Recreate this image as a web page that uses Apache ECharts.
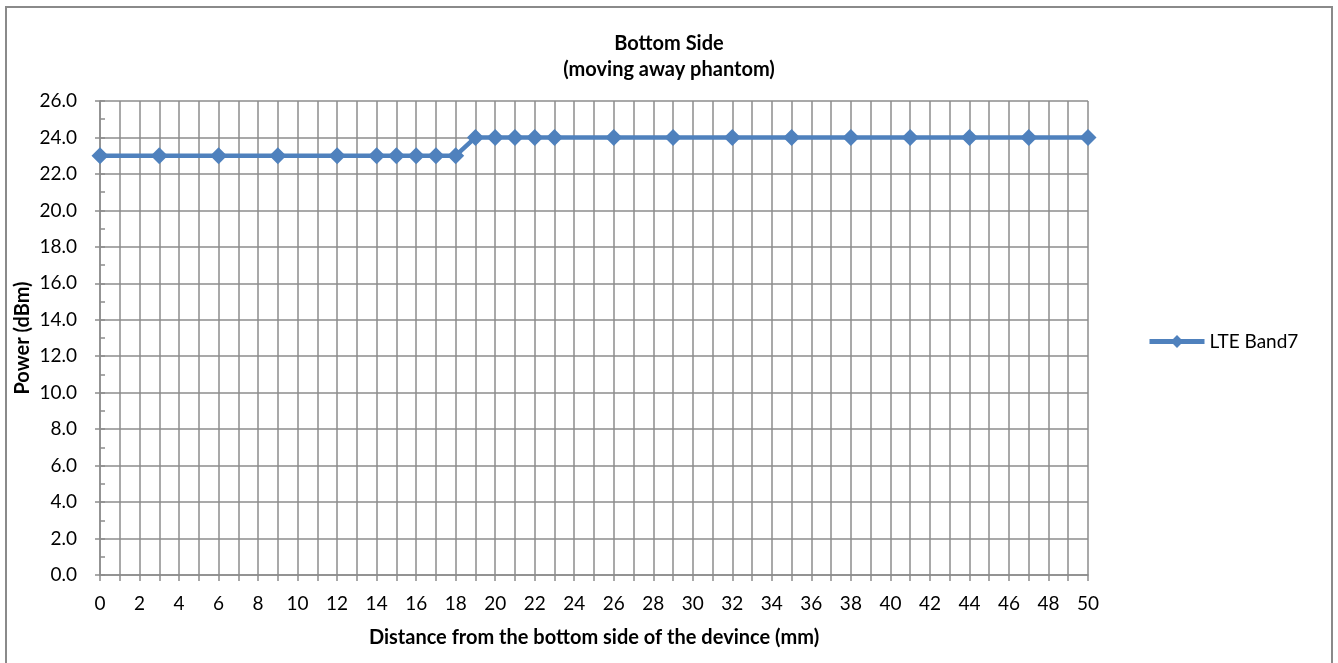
<!DOCTYPE html>
<html><head><meta charset="utf-8">
<script src="https://cdn.jsdelivr.net/npm/echarts@6/dist/echarts.min.js"></script>
<style>html,body{margin:0;padding:0;background:#fff}#c{width:1338px;height:663px}</style>
</head><body><div id="c"></div>
<script>
const distances = [0, 3, 6, 9, 12, 14, 15, 16, 17, 18, 19, 20, 21, 22, 23, 26, 29, 32, 35, 38, 41, 44, 47, 50];
const powerBand7 = [23, 23, 23, 23, 23, 23, 23, 23, 23, 23, 24, 24, 24, 24, 24, 24, 24, 24, 24, 24, 24, 24, 24, 24];
const seriesName = 'LTE Band7';
const titleLines = ['Bottom Side', '(moving away phantom)'];
const xName = 'Distance from the bottom side of the devince (mm)';
const yName = 'Power (dBm)';

const FONT = 'Lato, "Open Sans", sans-serif';
const GRID = '#8c8c8c';
const chart = echarts.init(document.getElementById('c'), null, {renderer: 'canvas'});
chart.setOption({
  animation: false,
  backgroundColor: '#fff',
  title: {
    text: titleLines.join('\n'), left: 'center', top: 26,
    textStyle: {fontFamily: FONT, fontSize: 20, fontWeight: 'bold', color: '#000', lineHeight: 26}
  },
  graphic: [{
    type: 'rect', shape: {x: 6, y: 7, width: 1326, height: 662},
    style: {fill: 'none', stroke: '#8a8a8a', lineWidth: 2}, silent: true
  }],
  legend: {
    data: [seriesName], left: 1142, top: 327, itemWidth: 55, itemHeight: 16,
    lineStyle: {width: 5},
    textStyle: {fontFamily: FONT, fontSize: 19, color: '#000'}, itemGap: 4
  },
  grid: {left: 100, right: 250, top: 101, bottom: 88, containLabel: false},
  xAxis: {
    type: 'value', min: 0, max: 50, interval: 1,
    name: xName, nameLocation: 'middle', nameGap: 53,
    nameTextStyle: {fontFamily: FONT, fontSize: 20, fontWeight: 'bold', color: '#000'},
    axisLine: {show: true, lineStyle: {color: GRID, width: 1.5}},
    axisTick: {show: true, length: 6, lineStyle: {color: GRID, width: 1.5}},
    axisLabel: {fontFamily: FONT, fontSize: 19, color: '#000', margin: 19,
      formatter: v => (v % 2 === 0 ? String(v) : '')},
    splitLine: {show: true, lineStyle: {color: GRID, width: 1.5}}
  },
  yAxis: [{
    type: 'value', min: 0, max: 26, interval: 2,
    name: yName, nameLocation: 'middle', nameGap: 67, nameMoveOverlap: false,
    nameTextStyle: {fontFamily: FONT, fontSize: 20, fontWeight: 'bold', color: '#000'},
    axisLine: {show: true, lineStyle: {color: GRID, width: 1.5}},
    axisTick: {show: true, length: 5, lineStyle: {color: GRID, width: 1.5}},
    axisLabel: {fontFamily: FONT, fontSize: 19, color: '#000', margin: 23,
      formatter: v => v.toFixed(1)},
    splitLine: {show: true, lineStyle: {color: GRID, width: 1.5}}
  }, {
    type: 'value', min: 0, max: 26, interval: 1, position: 'left', offset: 0,
    axisLine: {show: false},
    axisTick: {show: true, inside: true, length: 5, lineStyle: {color: GRID, width: 1.5}},
    axisLabel: {show: false}, splitLine: {show: false}
  }],
  series: [{
    name: seriesName, type: 'line', yAxisIndex: 0,
    data: distances.map((d, i) => [d, powerBand7[i]]),
    symbol: 'diamond', symbolSize: 17, showSymbol: true,
    lineStyle: {color: '#4f81bd', width: 4.5},
    itemStyle: {color: '#4f81bd', borderWidth: 0}
  }]
});
</script></body></html>
